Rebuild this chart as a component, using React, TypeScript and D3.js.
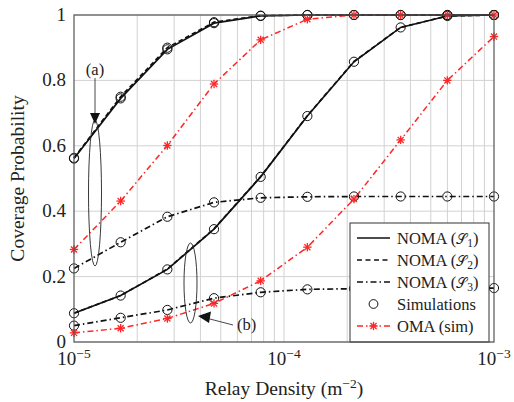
import React from "react";
import * as d3 from "d3";

const density = [1e-5, 1.668e-5, 2.783e-5, 4.642e-5, 7.743e-5, 1.292e-4, 2.154e-4, 3.594e-4, 5.995e-4, 1e-3];

// group (a)
const nomaS1a = [0.561, 0.745, 0.895, 0.975, 0.997, 1, 1, 1, 1, 1];
const nomaS2a = [0.563, 0.75, 0.9, 0.978, 0.998, 1, 1, 1, 1, 1];
const nomaS3a = [0.225, 0.305, 0.383, 0.427, 0.441, 0.444, 0.445, 0.445, 0.445, 0.445];
// group (b)
const nomaS1b = [0.088, 0.142, 0.222, 0.345, 0.505, 0.691, 0.857, 0.962, 0.997, 1];
const nomaS2b = [0.088, 0.142, 0.223, 0.346, 0.506, 0.692, 0.858, 0.962, 0.997, 1];
const nomaS3b = [0.05, 0.074, 0.098, 0.134, 0.152, 0.161, 0.163, 0.164, 0.165, 0.165];
// OMA
const omaA = [0.283, 0.431, 0.601, 0.789, 0.924, 0.987, 1, 1, 1, 1];
const omaB = [0.028, 0.042, 0.072, 0.118, 0.187, 0.29, 0.437, 0.618, 0.8, 0.934];

const yTicks = [0, 0.2, 0.4, 0.6, 0.8, 1];
const yTickLabels = ["0", "0.2", "0.4", "0.6", "0.8", "1"];
const xTicks = [1e-5, 1e-4, 1e-3];
const xTickExp = ["−5", "−4", "−3"];
const legendLabels = ["NOMA (", "NOMA (", "NOMA (", "Simulations", "OMA (sim)"];
const legendSubs = ["1", "2", "3"];

const W = 514, H = 402;
const L = 74, R = 494, T = 15, B = 342;
const FONT = "Liberation Serif, DejaVu Serif, serif";
const RED = "#ff2626";

export default function App() {
  const x = d3.scaleLog().domain([1e-5, 1e-3]).range([L, R]);
  const y = d3.scaleLinear().domain([0, 1]).range([B, T]);
  const line = d3.line<number>().x((_, i) => x(density[i])).y((d) => y(d));

  const minor: number[] = [];
  for (const dec of [1e-5, 1e-4]) for (let k = 2; k <= 9; k++) minor.push(dec * k);

  const circles = (vals: number[], key: string) =>
    vals.map((v, i) => (
      <circle key={key + i} cx={x(density[i])} cy={y(v)} r={4.6} fill="none" stroke="#111" strokeWidth={1} />
    ));

  const star = (cx: number, cy: number, key: string) => {
    const s = 4.2, d = s * 0.72;
    return (
      <g key={key} stroke={RED} strokeWidth={1.3}>
        <line x1={cx - s} y1={cy} x2={cx + s} y2={cy} />
        <line x1={cx} y1={cy - s} x2={cx} y2={cy + s} />
        <line x1={cx - d} y1={cy - d} x2={cx + d} y2={cy + d} />
        <line x1={cx - d} y1={cy + d} x2={cx + d} y2={cy - d} />
      </g>
    );
  };

  const dashDot = "6,3,1.5,3";
  const dashed = "4.5,3";

  const legY = [238, 260, 282, 304, 326];

  return (
    <svg width={W} height={H} style={{ position: "absolute", left: 0, top: 0, background: "#fff", fontFamily: FONT }}>
      <rect x={0} y={0} width={W} height={H} fill="#fff" />
      {/* grid */}
      <g stroke="#d2d2d2" strokeWidth={1}>
        {minor.concat([1e-4]).map((m, i) => (
          <line key={"gx" + i} x1={x(m)} x2={x(m)} y1={T} y2={B} />
        ))}
        {yTicks.map((t, i) => (
          <line key={"gy" + i} x1={L} x2={R} y1={y(t)} y2={y(t)} />
        ))}
      </g>

      {/* OMA lines */}
      <path d={line(omaA) || ""} fill="none" stroke={RED} strokeWidth={1.5} strokeDasharray={dashDot} />
      <path d={line(omaB) || ""} fill="none" stroke={RED} strokeWidth={1.5} strokeDasharray={dashDot} />

      {/* NOMA lines */}
      <path d={line(nomaS1a) || ""} fill="none" stroke="#111" strokeWidth={1.7} />
      <path d={line(nomaS2a) || ""} fill="none" stroke="#111" strokeWidth={1.7} strokeDasharray={dashed} />
      <path d={line(nomaS3a) || ""} fill="none" stroke="#111" strokeWidth={1.7} strokeDasharray={dashDot} />
      <path d={line(nomaS1b) || ""} fill="none" stroke="#111" strokeWidth={1.7} />
      <path d={line(nomaS2b) || ""} fill="none" stroke="#111" strokeWidth={1.7} strokeDasharray={dashed} />
      <path d={line(nomaS3b) || ""} fill="none" stroke="#111" strokeWidth={1.7} strokeDasharray={dashDot} />

      {/* simulation markers */}
      {circles(nomaS1a, "c1a")}
      {circles(nomaS2a, "c2a")}
      {circles(nomaS3a, "c3a")}
      {circles(nomaS1b, "c1b")}
      {circles(nomaS3b, "c3b")}
      {omaA.map((v, i) => star(x(density[i]), y(v), "sa" + i))}
      {omaB.map((v, i) => star(x(density[i]), y(v), "sb" + i))}

      {/* annotations */}
      <ellipse cx={95} cy={193} rx={6.5} ry={73} fill="none" stroke="#222" strokeWidth={0.9} />
      <line x1={95} y1={78} x2={95} y2={114} stroke="#333" strokeWidth={0.9} />
      <path d="M90,113 L100,113 L95,124 Z" fill="#111" />
      <text x={95} y={75} fontSize={16.5} textAnchor="middle" fill="#222" fontFamily={FONT}>(a)</text>

      <ellipse cx={190.5} cy={283} rx={6.5} ry={40} fill="none" stroke="#222" strokeWidth={0.9} />
      <line x1={233} y1={325} x2={208} y2={318.5} stroke="#333" strokeWidth={0.9} />
      <path d="M198,316 L211,311.5 L209,323 Z" fill="#111" />
      <text x={237} y={330} fontSize={16.5} fill="#222" fontFamily={FONT}>(b)</text>

      {/* legend */}
      <rect x={350} y={223} width={139} height={119} fill="#fff" stroke="#333" strokeWidth={1} />
      <line x1={357} x2={390} y1={legY[0]} y2={legY[0]} stroke="#111" strokeWidth={1.7} />
      <line x1={357} x2={390} y1={legY[1]} y2={legY[1]} stroke="#111" strokeWidth={1.7} strokeDasharray="5,3.5" />
      <line x1={357} x2={390} y1={legY[2]} y2={legY[2]} stroke="#111" strokeWidth={1.7} strokeDasharray={dashDot} />
      <circle cx={373.5} cy={legY[3]} r={4.4} fill="none" stroke="#111" strokeWidth={1} />
      <line x1={357} x2={390} y1={legY[4]} y2={legY[4]} stroke={RED} strokeWidth={1.5} strokeDasharray={dashDot} />
      {star(373.5, legY[4], "legstar")}
      {legendLabels.map((lab, i) => (
        <text key={"lt" + i} x={397} y={legY[i] + 5.5} fontSize={16.5} fill="#222" fontFamily={FONT}>
          {lab}
          {i < 3 ? (
            <>
              <tspan fontFamily="DejaVu Serif, serif" fontSize={14}>𝒮</tspan>
              <tspan fontSize={11.5} dy={3}>{legendSubs[i]}</tspan>
              <tspan dy={-3}>)</tspan>
            </>
          ) : null}
        </text>
      ))}

      {/* frame */}
      <rect x={L} y={T} width={R - L} height={B - T} fill="none" stroke="#555" strokeWidth={1.2} />

      {/* y ticks */}
      {yTicks.map((t, i) => (
        <text key={"yt" + i} x={66} y={y(t) + 6} fontSize={19} textAnchor="end" fill="#222" fontFamily={FONT}>
          {yTickLabels[i]}
        </text>
      ))}
      {/* x ticks */}
      {xTicks.map((t, i) => (
        <text key={"xt" + i} x={x(t)} y={365} fontSize={19} textAnchor="middle" fill="#222" fontFamily={FONT}>
          10<tspan fontSize={13.5} dy={-7}>{xTickExp[i]}</tspan>
        </text>
      ))}

      {/* axis labels */}
      <text x={284} y={395} fontSize={19.5} textAnchor="middle" fill="#222" fontFamily={FONT}>
        Relay Density (m<tspan fontSize={13.5} dy={-7}>−2</tspan><tspan dy={7}>)</tspan>
      </text>
      <text transform={`translate(24,178.5) rotate(-90)`} fontSize={19.5} textAnchor="middle" fill="#222" fontFamily={FONT}>
        Coverage Probability
      </text>
    </svg>
  );
}
